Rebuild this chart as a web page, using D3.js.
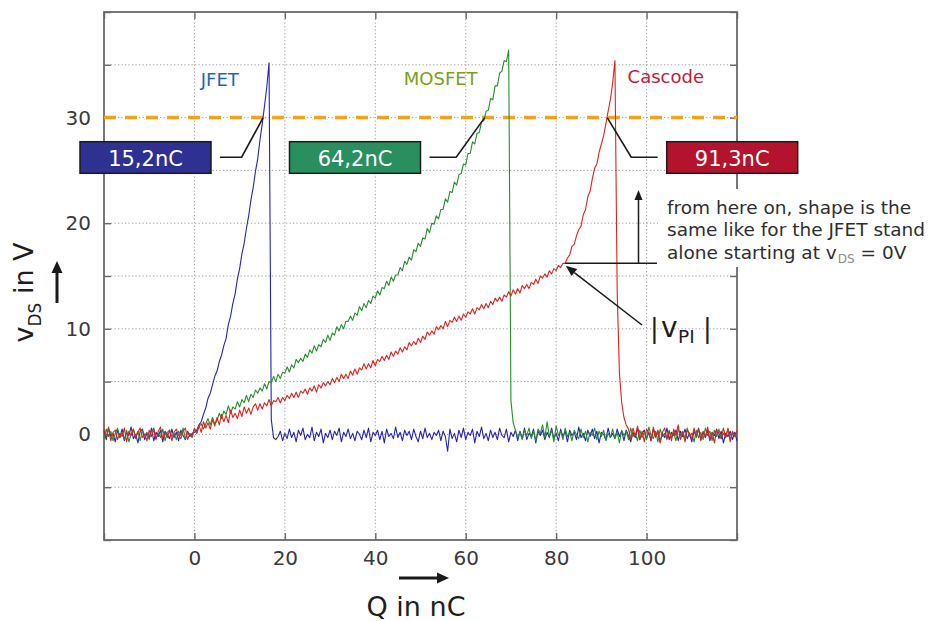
<!DOCTYPE html>
<html>
<head>
<meta charset="utf-8">
<script src="https://cdn.jsdelivr.net/npm/d3@7"></script>
<style>
  body { margin: 0; background: #fff; }
  svg { display: block; font-family: "DejaVu Sans", Verdana, sans-serif; }
</style>
</head>
<body>
<svg id="chart" width="931" height="621"></svg>
<script>
// Gate charge traces: v_DS over injected charge Q, sampled every 0.5 nC from -20 nC.
const Q_START = -20;
const Q_STEP = 0.5;

const jfetV = [
  // Q -20 .. -0.5
  0.3,-0.5,0.6,-0.2,0.1,-0.7,0.4,-0.3,0.5,-0.6,
  0.2,-0.1,0.7,-0.4,0.0,-0.8,0.3,0.5,-0.5,0.1,
  -0.3,0.6,-0.6,0.2,-0.2,0.4,-0.7,0.3,0.0,-0.4,
  0.5,-0.3,0.2,-0.6,0.4,-0.1,-0.5,0.3,-0.2,0.1,
  // Q 0 .. 16.5
  0.2,0.4,0.9,1.2,1.9,2.5,3.4,3.9,4.7,5.5,
  6.0,6.9,7.5,8.4,9.1,10.4,11.2,12.4,13.3,14.7,
  15.7,17.1,18.1,19.5,20.7,22.2,23.4,24.9,26.1,27.9,
  29.4,31.1,32.9,35.2,
  // Q 17 .. 18
  1.4,-0.3,-0.5,
  // Q 18.5 .. 120
  -0.2,0.3,-0.6,0.1,-0.4,0.5,-0.3,0.2,-0.7,0.4,
  -0.1,0.6,-0.5,0.0,-0.3,0.7,-0.6,0.2,-0.2,0.5,
  -0.8,0.1,-0.3,0.4,-0.5,0.3,-0.1,0.6,-0.7,0.2,
  -0.2,0.5,-0.4,0.1,-0.6,0.3,0.0,-0.5,0.4,-0.3,
  0.6,-0.7,0.2,-0.1,0.4,-0.5,0.3,-0.8,0.5,-0.2,
  0.1,-0.4,0.7,-0.3,0.2,-0.6,0.4,-0.1,0.3,-0.5,
  0.5,-0.2,-0.7,0.3,-0.4,0.6,-0.3,0.1,-0.5,0.2,
  -0.1,0.4,-0.6,0.3,-0.2,-1.6,0.5,-0.4,0.1,-0.7,
  0.4,-0.3,0.6,-0.5,0.2,-0.1,0.5,-0.8,0.3,-0.2,
  0.7,-0.4,0.1,-0.6,0.4,-0.3,0.2,-0.5,0.6,-0.1,
  -0.3,0.5,-0.7,0.2,-0.2,0.4,-0.6,0.3,-0.4,0.6,
  -0.5,0.1,-0.2,0.5,-0.8,0.3,-0.1,0.4,-0.5,0.2,
  -0.3,0.6,-0.4,0.1,-0.6,0.5,-0.2,0.3,-0.7,0.4,
  -0.1,0.2,-0.5,0.7,-0.3,0.1,-0.6,0.4,-0.2,0.5,
  -0.4,0.3,-0.8,0.2,0.0,-0.5,0.6,-0.3,0.1,-0.4,
  0.5,-0.2,0.3,-0.6,0.4,-0.1,-0.7,0.2,-0.3,0.6,
  -0.5,0.1,0.4,-0.4,0.2,-0.6,0.5,-0.2,0.3,-0.7,
  0.1,-0.3,0.6,-0.5,0.2,-0.1,0.4,-0.6,0.3,-0.2,
  0.5,-0.4,0.1,-0.7,0.3,-0.2,0.6,-0.5,0.2,-0.3,
  0.4,-0.6,0.2,-0.1,0.5,-0.4,0.3,-0.8,0.1,-0.2,
  0.3,-0.5,0.2,-0.6
];

const mosfetV = [
  // Q -20 .. -0.5
  -0.4,0.5,-0.2,0.3,-0.6,0.1,0.6,-0.3,0.2,-0.5,
  0.4,-0.7,0.0,0.5,-0.2,0.3,-0.6,0.4,-0.1,0.2,
  -0.5,0.3,0.6,-0.4,0.1,-0.3,0.5,-0.6,0.2,0.4,
  -0.2,0.1,-0.5,0.3,-0.1,0.6,-0.4,0.2,0.0,-0.3,
  // Q 0 .. 69.5
  0.5,0.1,0.7,1.0,0.5,1.0,1.5,0.9,1.6,1.0,
  1.3,2.0,1.5,2.2,1.9,2.7,2.0,2.6,2.4,3.1,
  2.6,3.3,3.0,3.7,3.1,3.8,3.5,4.2,3.9,4.4,
  4.1,4.8,4.3,5.0,4.9,5.5,5.0,5.7,5.3,5.9,
  5.8,6.4,5.9,6.6,6.3,7.1,6.8,7.2,6.9,7.6,
  7.3,8.0,7.7,8.4,7.9,8.5,8.3,9.0,8.7,9.4,
  8.9,9.6,9.4,10.2,9.8,10.4,10.0,10.7,10.7,11.2,
  10.8,11.5,11.3,12.1,11.7,12.4,12.0,12.7,12.4,13.1,
  12.9,13.6,13.2,13.9,13.8,14.5,14.1,14.9,14.5,15.1,
  15.1,15.8,15.5,16.4,16.1,16.8,16.5,17.5,17.3,18.1,
  17.8,18.6,18.5,19.5,19.1,20.0,19.9,20.7,20.4,21.3,
  21.3,22.3,22.0,23.0,22.9,23.9,23.6,24.6,24.7,25.6,
  25.5,26.6,26.6,27.7,27.5,28.5,28.6,29.6,29.7,30.6,
  30.7,31.8,31.7,33.0,33.0,34.2,34.4,35.4,35.3,36.4,
  // Q 70 .. 71
  3.2,1.1,0.4,
  // Q 71.5 .. 120
  -0.3,0.2,-0.5,0.4,-0.1,0.6,-0.4,0.3,-0.6,0.5,
  0.1,0.9,-0.3,1.2,-0.2,0.4,-0.7,0.8,-0.1,0.3,
  -0.5,0.6,-0.2,0.2,-0.6,0.4,0.0,-0.4,0.5,-0.3,
  0.3,-0.7,0.2,-0.1,0.6,-0.5,0.3,-0.2,0.4,-0.6,
  0.1,-0.3,0.5,-0.4,0.2,-0.8,0.4,-0.1,0.3,-0.5,
  0.6,-0.2,0.1,-0.6,0.4,-0.3,0.2,-0.5,0.7,-0.1,
  -0.4,0.3,-0.7,0.5,-0.2,0.1,-0.5,0.4,-0.3,0.2,
  -0.6,0.5,-0.1,0.3,-0.4,0.6,-0.2,0.1,-0.7,0.4,
  -0.3,0.2,-0.5,0.6,-0.1,0.3,-0.6,0.4,-0.2,0.5,
  -0.4,0.1,-0.3,0.6,-0.5,0.2,-0.1,0.3
];

const cascodeV = [
  // Q -20 .. -0.5
  0.5,-0.3,0.7,-0.6,0.2,0.4,-0.5,0.1,-0.2,0.6,
  -0.7,0.3,-0.1,0.5,-0.4,0.2,0.6,-0.3,0.0,-0.6,
  0.4,-0.2,0.5,-0.5,0.3,0.7,-0.4,0.1,-0.3,0.4,
  -0.6,0.2,0.5,-0.1,-0.4,0.3,0.6,-0.5,0.1,-0.2,
  // Q 0 .. 93
  0.6,0.1,0.9,0.2,1.2,0.6,1.1,0.5,1.4,0.8,
  1.6,0.9,1.9,1.2,1.8,1.1,2.3,1.6,2.0,1.5,
  2.3,1.7,2.6,2.0,2.5,1.9,2.6,2.9,2.3,2.9,
  2.4,3.0,2.7,3.3,2.7,3.2,3.1,3.5,3.0,3.5,
  3.2,3.7,3.4,3.9,3.5,4.0,3.5,4.1,3.9,4.3,
  3.8,4.4,4.1,4.6,4.0,4.7,4.4,4.9,4.6,5.0,
  4.7,5.3,4.9,5.4,5.0,5.7,5.3,5.7,5.3,6.0,
  5.6,6.2,5.7,6.3,6.1,6.7,6.2,6.7,6.3,7.0,
  6.5,7.1,6.9,7.4,7.0,7.5,7.1,7.8,7.4,7.9,
  7.6,8.2,7.8,8.3,8.0,8.7,8.4,8.8,8.5,9.1,
  8.7,9.3,9.0,9.7,9.4,9.8,9.5,10.2,9.9,10.3,
  10.0,10.7,10.2,10.8,10.6,11.1,10.7,11.2,10.8,11.4,
  11.1,11.6,11.4,11.9,11.4,12.0,11.8,12.3,11.9,12.4,
  12.0,12.6,12.3,12.9,12.6,13.0,12.6,13.2,13.0,13.5,
  13.1,13.7,13.3,13.8,13.4,14.1,13.8,14.2,13.8,14.4,
  14.2,14.7,14.3,15.0,14.8,15.2,14.9,15.5,15.2,15.7,
  15.5,16.0,15.8,16.2,16.2,16.7,17.0,17.8,18.0,18.8,
  19.4,19.7,20.8,21.3,22.5,23.0,24.2,25.2,25.6,26.7,
  27.5,28.3,29.4,30.6,31.7,33.3,35.4,
  // Q 93.5 .. 96
  13.5,5.8,3.0,1.6,0.9,0.5,
  // Q 96.5 .. 120
  -0.4,0.6,-0.2,0.8,-0.5,0.3,-0.7,0.5,0.1,-0.6,
  0.7,-0.3,0.4,-0.8,0.2,0.6,-0.4,0.3,-0.6,0.5,
  -0.1,0.9,-0.5,0.2,-0.7,0.4,0.1,-0.4,0.6,-0.3,
  0.5,-0.6,0.3,-0.2,0.7,-0.5,0.2,-0.8,0.4,0.1,
  -0.4,0.6,-0.3,0.5,-0.7,0.3,-0.2,0.4
];

const seriesNames = ["JFET", "MOSFET", "Cascode"];
const seriesValues = [jfetV, mosfetV, cascodeV];

// charge at which each trace passes the 30 V plateau level (nC)
const plateauLevel = 30;
const crossCharge = [15.2, 64.2, 91.3];

// knee of the cascode trace, |v_PI| (nC, V)
const vpiCharge = 82;
const vpiLevel = 16.2;

const xTickValues = [-20, 0, 20, 40, 60, 80, 100, 120];
const xTickLabels = [0, 20, 40, 60, 80, 100];
const yTickValues = [-10, -5, 0, 5, 10, 15, 20, 25, 30, 35, 40];
const yTickLabels = [0, 10, 20, 30];

const noteLines = ["from here on, shape is the", "same like for the JFET stand", "alone starting at v"];

// ---------------------------------------------------------------- drawing
const svg = d3.select("#chart");
const plot = { left: 104, right: 737, top: 12, bottom: 540 };

const x = d3.scaleLinear().domain([-20, 120]).range([plot.left, plot.right]);
const y = d3.scaleLinear().domain([-10, 40]).range([plot.bottom, plot.top]);

const traceColors = ["#2424b8", "#2a8c2e", "#e0221f"];
const nameColors = ["#1f68ad", "#7c9f1d", "#c41a3a"];
const boxColors = ["#2e3192", "#2a8f5f", "#b3132c"];

// dotted grid
const grid = svg.append("g").attr("stroke", "#9a9a9a").attr("stroke-width", 1)
  .attr("stroke-dasharray", "1.2,2.3");
grid.selectAll(".gx").data(xTickValues.slice(1, -1)).join("line")
  .attr("x1", d => x(d)).attr("x2", d => x(d))
  .attr("y1", plot.top).attr("y2", plot.bottom);
grid.selectAll(".gy").data(yTickValues.slice(1, -1)).join("line")
  .attr("x1", plot.left).attr("x2", plot.right)
  .attr("y1", d => y(d)).attr("y2", d => y(d));

// axes with inward ticks on all four sides
function styleAxis(g) {
  g.select(".domain").remove();
  g.selectAll(".tick line").attr("stroke", "#6a6a6a").attr("stroke-width", 1.4);
  g.selectAll(".tick text").attr("fill", "#3a3a3a").attr("font-size", 20)
    .attr("font-family", "DejaVu Sans, Verdana, sans-serif");
}
svg.append("g").attr("transform", `translate(${plot.left},0)`)
  .call(d3.axisLeft(y).tickValues(yTickValues).tickSize(-7).tickPadding(13)
    .tickFormat(d => yTickLabels.includes(d) ? d : ""))
  .call(styleAxis);
svg.append("g").attr("transform", `translate(${plot.right},0)`)
  .call(d3.axisRight(y).tickValues(yTickValues).tickSize(-7).tickFormat(""))
  .call(styleAxis);
svg.append("g").attr("transform", `translate(0,${plot.bottom})`)
  .call(d3.axisBottom(x).tickValues(xTickValues).tickSize(-7).tickPadding(11)
    .tickFormat(d => xTickLabels.includes(d) ? d : ""))
  .call(styleAxis);
svg.append("g").attr("transform", `translate(0,${plot.top})`)
  .call(d3.axisTop(x).tickValues(xTickValues).tickSize(-7).tickFormat(""))
  .call(styleAxis);

svg.append("rect")
  .attr("x", plot.left).attr("y", plot.top)
  .attr("width", plot.right - plot.left).attr("height", plot.bottom - plot.top)
  .attr("fill", "none").attr("stroke", "#6a6a6a").attr("stroke-width", 1.8);

// 30 V reference level
svg.append("line")
  .attr("x1", plot.left).attr("x2", plot.right)
  .attr("y1", y(plateauLevel)).attr("y2", y(plateauLevel))
  .attr("stroke", "#f4a11c").attr("stroke-width", 3.5)
  .attr("stroke-dasharray", "12,9");

// traces
const line = d3.line().x(d => x(d[0])).y(d => y(d[1]));
seriesValues.forEach((vals, k) => {
  const pts = vals.map((v, i) => [Q_START + i * Q_STEP, v]);
  svg.append("path").datum(pts)
    .attr("d", line)
    .attr("fill", "none")
    .attr("stroke", traceColors[k])
    .attr("stroke-width", 1.1)
    .attr("stroke-linejoin", "round");
});

// trace names
const namePos = [[1.4, 33.0], [46.3, 33.1], [95.8, 33.3]];
seriesNames.forEach((n, k) => {
  svg.append("text")
    .attr("x", x(namePos[k][0])).attr("y", y(namePos[k][1]))
    .attr("fill", nameColors[k]).attr("font-size", 18)
    .text(n);
});

// charge call-outs at the 30 V crossing
const fmt = d3.formatLocale({ decimal: ",", thousands: ".", grouping: [3], currency: ["", ""] }).format(".1f");
const box = { w: 131, h: 31.6, y: 141.7 };
const calloutLayout = [
  { boxX: 80, knee: -21.5, side: "left" },
  { boxX: 289.5, knee: -28.5, side: "left" },
  { boxX: 666.7, knee: 24, side: "right" }
];
const leaderY = box.y + box.h / 2 - 0.3;
crossCharge.forEach((q, k) => {
  const L = calloutLayout[k];
  const cx = x(q), cy = y(plateauLevel);
  const path = d3.path();
  if (L.side === "left") {
    path.moveTo(L.boxX + box.w + 9, leaderY);
    path.lineTo(cx + L.knee, leaderY);
    path.lineTo(cx, cy);
  } else {
    path.moveTo(cx, cy);
    path.lineTo(cx + L.knee, leaderY);
    path.lineTo(L.boxX - 9, leaderY);
  }
  svg.append("path").attr("d", path.toString())
    .attr("fill", "none").attr("stroke", "#1a1a1a").attr("stroke-width", 1.6);
  svg.append("rect")
    .attr("x", L.boxX).attr("y", box.y).attr("width", box.w).attr("height", box.h)
    .attr("fill", boxColors[k]).attr("stroke", "#1b1b1b").attr("stroke-width", 1.5);
  svg.append("text")
    .attr("x", L.boxX + box.w / 2).attr("y", box.y + 24)
    .attr("text-anchor", "middle").attr("fill", "#fff").attr("font-size", 21)
    .text(fmt(q) + "nC");
});

// arrow helper: shaft plus filled head
function arrow(x1, y1, x2, y2, width, headLen, headW) {
  const ang = Math.atan2(y2 - y1, x2 - x1);
  const bx = x2 - headLen * Math.cos(ang), by = y2 - headLen * Math.sin(ang);
  svg.append("line").attr("x1", x1).attr("y1", y1).attr("x2", bx).attr("y2", by)
    .attr("stroke", "#1a1a1a").attr("stroke-width", width);
  const px = -Math.sin(ang) * headW / 2, py = Math.cos(ang) * headW / 2;
  svg.append("path")
    .attr("d", `M${x2},${y2}L${bx + px},${by + py}L${bx - px},${by - py}Z`)
    .attr("fill", "#1a1a1a");
}

// note block (white backing hides the frame behind it)
svg.append("rect").attr("x", 658).attr("y", 189).attr("width", 273).attr("height", 78)
  .attr("fill", "#fff");

const kneeY = y(vpiLevel);
svg.append("line")
  .attr("x1", x(vpiCharge)).attr("x2", 657)
  .attr("y1", kneeY).attr("y2", kneeY)
  .attr("stroke", "#1a1a1a").attr("stroke-width", 1.5);
arrow(638.5, kneeY, 638.5, 190, 1.5, 10, 8);
arrow(642, 325, x(vpiCharge) + 0.5, kneeY + 2.5, 1.5, 11, 9);

const note = svg.append("g").attr("fill", "#2e2e2e").attr("font-size", 18.5);
noteLines.forEach((t, i) => {
  const tx = note.append("text").attr("x", 667).attr("y", 214 + i * 22.3).text(t);
  if (i === 2) {
    tx.append("tspan").attr("font-size", 12).attr("fill", "#8c8c8c").attr("dy", 4.5).attr("dx", 1).text("DS");
    tx.append("tspan").attr("dy", -4.5).text(" = 0V");
  }
});

// |v_PI| label
const vpi = svg.append("g").attr("fill", "#1e1e1e");
vpi.append("text").attr("x", 654.5).attr("y", 337).attr("text-anchor", "middle")
  .attr("font-size", 26).text("|");
vpi.append("text").attr("x", 661).attr("y", 337).attr("font-size", 28).text("v");
vpi.append("text").attr("x", 678).attr("y", 343).attr("font-size", 18.5).text("PI");
vpi.append("text").attr("x", 707.5).attr("y", 337).attr("text-anchor", "middle")
  .attr("font-size", 26).text("|");

// axis titles with direction arrows
const yt = svg.append("text")
  .attr("transform", "translate(33,292.5) rotate(-90)")
  .attr("text-anchor", "middle").attr("fill", "#1e1e1e").attr("font-size", 27);
yt.append("tspan").text("v");
yt.append("tspan").attr("font-size", 17).attr("dy", 8).text("DS");
yt.append("tspan").attr("dy", -8).text(" in V");
arrow(57, 303, 57, 261, 3, 12, 11);

svg.append("text").attr("x", 416).attr("y", 616)
  .attr("text-anchor", "middle").attr("fill", "#1e1e1e").attr("font-size", 27)
  .text("Q in nC");
arrow(399, 578, 449, 578, 3, 12, 11);
</script>
</body>
</html>
